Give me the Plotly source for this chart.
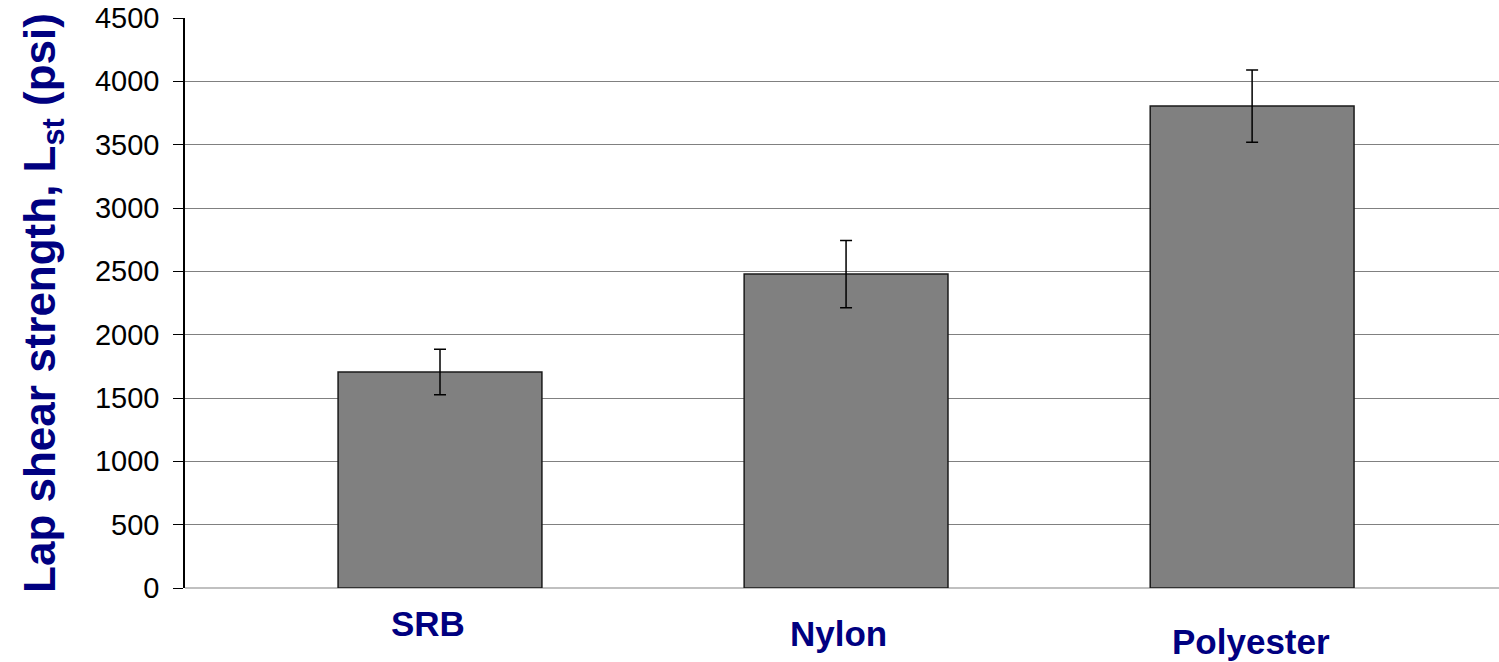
import plotly.graph_objects as go

categories = ["SRB", "Nylon", "Polyester"]
strength = [1705, 2478, 3805]
strength_err = [180, 265, 285]
y_ticks = [0, 500, 1000, 1500, 2000, 2500, 3000, 3500, 4000, 4500]

label_drop = [35, 45, 53]    # px below the axis for each category label
label_shift = [-12, -8, -1]  # px horizontal nudge for each category label

fig = go.Figure()
fig.add_trace(go.Bar(
    x=categories, y=strength,
    width=0.502,
    marker=dict(color="#808080", line=dict(color="#1a1a1a", width=1.5)),
    error_y=dict(type="data", array=strength_err, color="black", thickness=1.5, width=6),
    showlegend=False,
))

for cat, drop, dx in zip(categories, label_drop, label_shift):
    fig.add_annotation(
        x=cat, y=0, xref="x", yref="y", yshift=-drop, xshift=dx,
        text="<b>%s</b>" % cat, showarrow=False,
        font=dict(family="Arial, Liberation Sans, sans-serif", size=35, color="#000080"),
    )

fig.update_layout(
    width=1499, height=662,
    margin=dict(l=185, r=0, t=18, b=74),
    paper_bgcolor="white", plot_bgcolor="white",
    font=dict(family="Arial, Liberation Sans, sans-serif", color="black"),
    xaxis=dict(
        type="category", range=[-0.628, 2.608],
        showticklabels=False, showgrid=False, ticks="",
        showline=False, zeroline=False,
    ),
    yaxis=dict(
        range=[0, 4500], tickvals=y_ticks,
        tickfont=dict(size=29, color="black"),
        ticklabelstandoff=8, ticklabeloverflow="allow",
        showgrid=True, gridcolor="#808080", gridwidth=1,
        showline=True, linecolor="black", linewidth=1.5,
        ticks="outside", ticklen=10, tickcolor="black", tickwidth=1,
        zeroline=True, zerolinecolor="#c0c0c0", zerolinewidth=1.5,
        title=dict(
            text="<b>Lap shear strength, L<sub>st</sub> (psi)</b>",
            font=dict(size=44, color="#000080"),
            standoff=26,
        ),
    ),
    bargap=0.5,
)

fig.write_html(
    "out.html",
    config={"displayModeBar": False},
    post_script="document.body.style.margin='0';document.body.style.overflow='hidden';",
)
